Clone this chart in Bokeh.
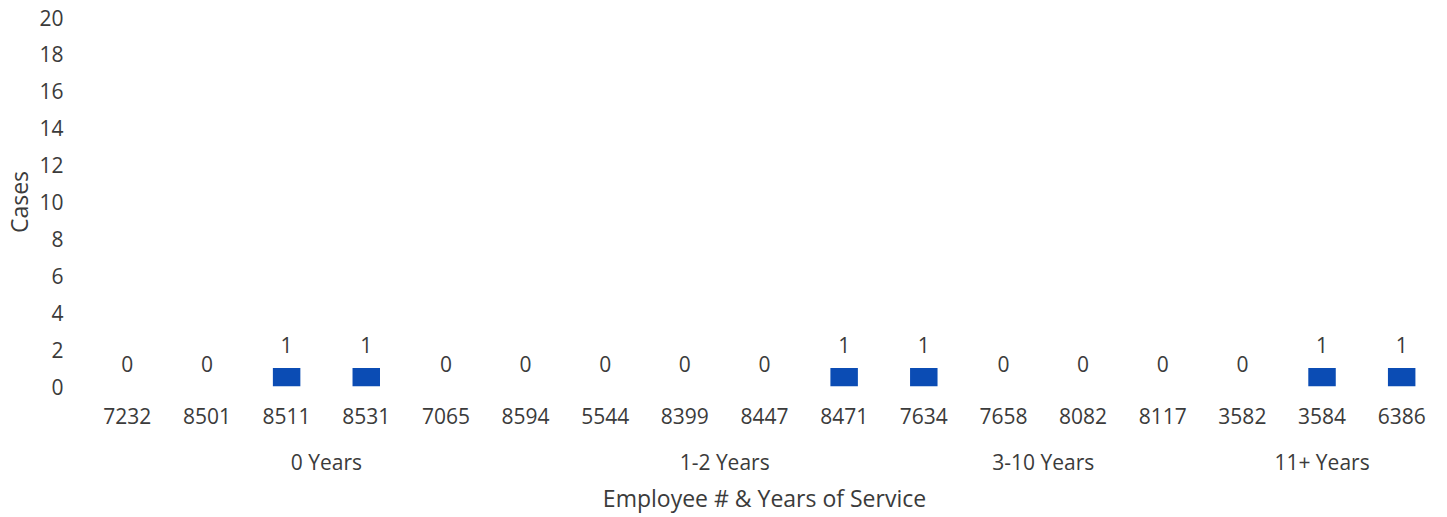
from bokeh.plotting import figure
from bokeh.models import FactorRange, Range1d, SingleIntervalTicker, ColumnDataSource
from bokeh.core.properties import value
from bokeh.embed import file_html
from bokeh.resources import INLINE

# ---- data ----
employees = ["7232", "8501", "8511", "8531", "7065", "8594",
             "5544", "8399", "8447", "8471",
             "7634", "7658", "8082", "8117",
             "3582", "3584", "6386"]
service = ["0 Years"] * 6 + ["1-2 Years"] * 4 + ["3-10 Years"] * 4 + ["11+ Years"] * 3
cases = [0, 0, 1, 1, 0, 0,
         0, 0, 0, 1,
         1, 0, 0, 0,
         0, 1, 1]

FONT = "Open Sans"
TXT = "#3b3b3b"
BAR = "#0b4cb4"

factors = list(zip(service, employees))
src = ColumnDataSource(dict(x=factors, top=cases, label=[str(c) for c in cases]))

p = figure(
    x_range=FactorRange(*factors, factor_padding=0, group_padding=0, range_padding=0),
    y_range=Range1d(0, 20),
    width=1444, height=516,
    output_backend="svg", toolbar_location=None,
    min_border_left=10, min_border_right=3, min_border_top=17, min_border_bottom=100,
)
p.outline_line_color = None
p.background_fill_color = "white"
p.border_fill_color = "white"
p.xgrid.grid_line_color = None
p.ygrid.grid_line_color = None

p.vbar(x="x", top="top", width=0.345, source=src, fill_color=BAR, line_color=None)
p.text(x="x", y="top", text="label", source=src, text_align="center", text_baseline="alphabetic",
       y_offset=-23, text_font=value(FONT), text_font_size="21px", text_color=TXT)

# y axis
ya = p.yaxis[0]
ya.ticker = SingleIntervalTicker(interval=2)
ya.axis_label = "Cases"
ya.axis_line_color = None
ya.major_tick_line_color = None
ya.minor_tick_line_color = None
ya.major_tick_out = 0
ya.major_label_standoff = 20
ya.major_label_text_font = FONT
ya.major_label_text_font_size = "21px"
ya.major_label_text_color = TXT
ya.axis_label_text_font = FONT
ya.axis_label_text_font_size = "23px"
ya.axis_label_text_font_style = "normal"
ya.axis_label_text_color = TXT
ya.axis_label_standoff = 1

# x axis (two levels: employee # and years of service)
xa = p.xaxis[0]
xa.axis_label = "Employee # & Years of Service"
xa.axis_line_color = None
xa.major_tick_line_color = None
xa.major_tick_out = 0
xa.major_label_standoff = 21
xa.major_label_text_font = FONT
xa.major_label_text_font_size = "21px"
xa.major_label_text_color = TXT
xa.group_text_font = FONT
xa.group_text_font_size = "21px"
xa.group_text_font_style = "normal"
xa.group_text_color = TXT
xa.separator_line_color = None
xa.axis_label_text_font = FONT
xa.axis_label_text_font_size = "23px"
xa.axis_label_text_font_style = "normal"
xa.axis_label_text_color = TXT
xa.axis_label_standoff = 3

open("out.html", "w").write(file_html(p, INLINE))
